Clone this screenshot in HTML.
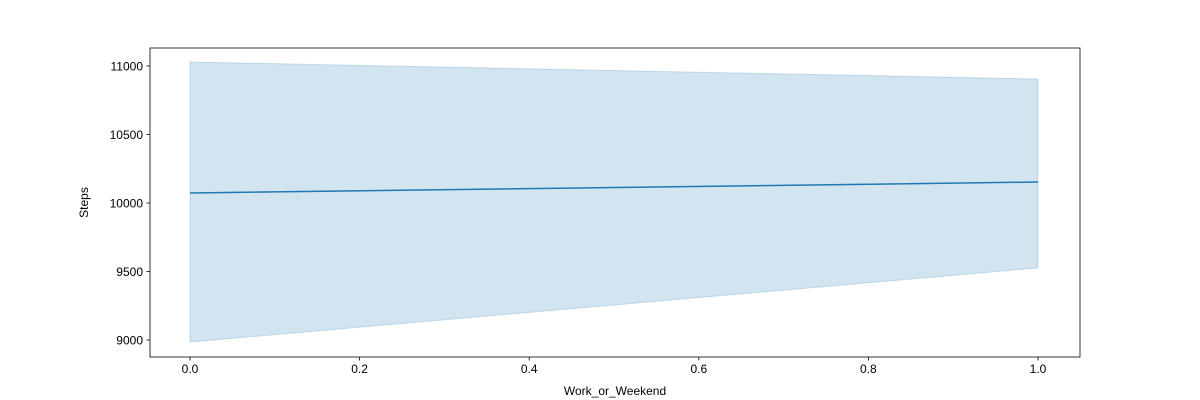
<!DOCTYPE html>
<html><head><meta charset="utf-8"><style>
html,body{margin:0;padding:0;background:#fff;}
svg{display:block;font-family:"Liberation Sans","DejaVu Sans",sans-serif;}
</style></head><body>
<svg id="chart" width="1200" height="400"></svg>
<script>
const xValues = [0, 1];
const meanValues = [10073, 10153];
const upperValues = [11029, 10905];
const lowerValues = [8985, 9526];
const xTicks = [0, 0.2, 0.4, 0.6, 0.8, 1.0];
const xTickLabels = ["0.0", "0.2", "0.4", "0.6", "0.8", "1.0"];
const yTicks = [9000, 9500, 10000, 10500, 11000];
const yTickLabels = ["9000", "9500", "10000", "10500", "11000"];

const NS = "http://www.w3.org/2000/svg";
const svg = document.getElementById("chart");
const L = 150, R = 1080, T = 48, B = 357;
function xs(v){ return 190 + v * (1038 - 190); }
function ys(v){ return 203 - (v - 10000) * (340 - 66) / 2000; }
function mk(tag, attrs, parent){
  const e = document.createElementNS(NS, tag);
  for (const k in attrs) e.setAttribute(k, attrs[k]);
  (parent || svg).appendChild(e);
  return e;
}

let d = "";
xValues.forEach((x,i)=>{ d += (i?"L":"M") + xs(x) + "," + ys(upperValues[i]); });
for (let i = xValues.length - 1; i >= 0; i--) d += "L" + xs(xValues[i]) + "," + ys(lowerValues[i]);
d += "Z";
const band = mk("path", {d: d, fill: "#1f77b4", "fill-opacity": "0.2", stroke: "#1f77b4", "stroke-opacity": "0.2", "stroke-width": "1"});



let ld = "";
xValues.forEach((x,i)=>{ ld += (i?"L":"M") + xs(x) + "," + ys(meanValues[i]); });
const line = mk("path", {d: ld, fill: "none", stroke: "#1f77b4", "stroke-width": "1.5"});



const frame = mk("rect", {x: L, y: T, width: R - L, height: B - T, fill: "none", stroke: "#000", "stroke-width": "0.8"});



xTicks.forEach((t,i)=>{
  const x = xs(t);
  mk("line", {x1: x, x2: x, y1: B, y2: B + 3.5, stroke: "#000", "stroke-width": "0.8"});
  const tx = mk("text", {x: x, y: B + 16, "text-anchor": "middle", "font-size": "12", fill: "#000"});
  tx.textContent = xTickLabels[i];
  
  
});
yTicks.forEach((t,i)=>{
  const y = ys(t);
  mk("line", {x1: L - 3.5, x2: L, y1: y, y2: y, stroke: "#000", "stroke-width": "0.8"});
  const tx = mk("text", {x: L - 7, y: y + 4.5, "text-anchor": "end", "font-size": "12", fill: "#000"});
  tx.textContent = yTickLabels[i];
  
  
});
const xt = mk("text", {x: (L + R) / 2, y: 395, "text-anchor": "middle", "font-size": "12", fill: "#000"});
xt.textContent = "Work_or_Weekend";


const yt = mk("text", {x: 88, y: (T + B) / 2, "text-anchor": "middle", "font-size": "12", fill: "#000", transform: "rotate(-90 88 " + ((T + B) / 2) + ")"});
yt.textContent = "Steps";


</script>
</body></html>
